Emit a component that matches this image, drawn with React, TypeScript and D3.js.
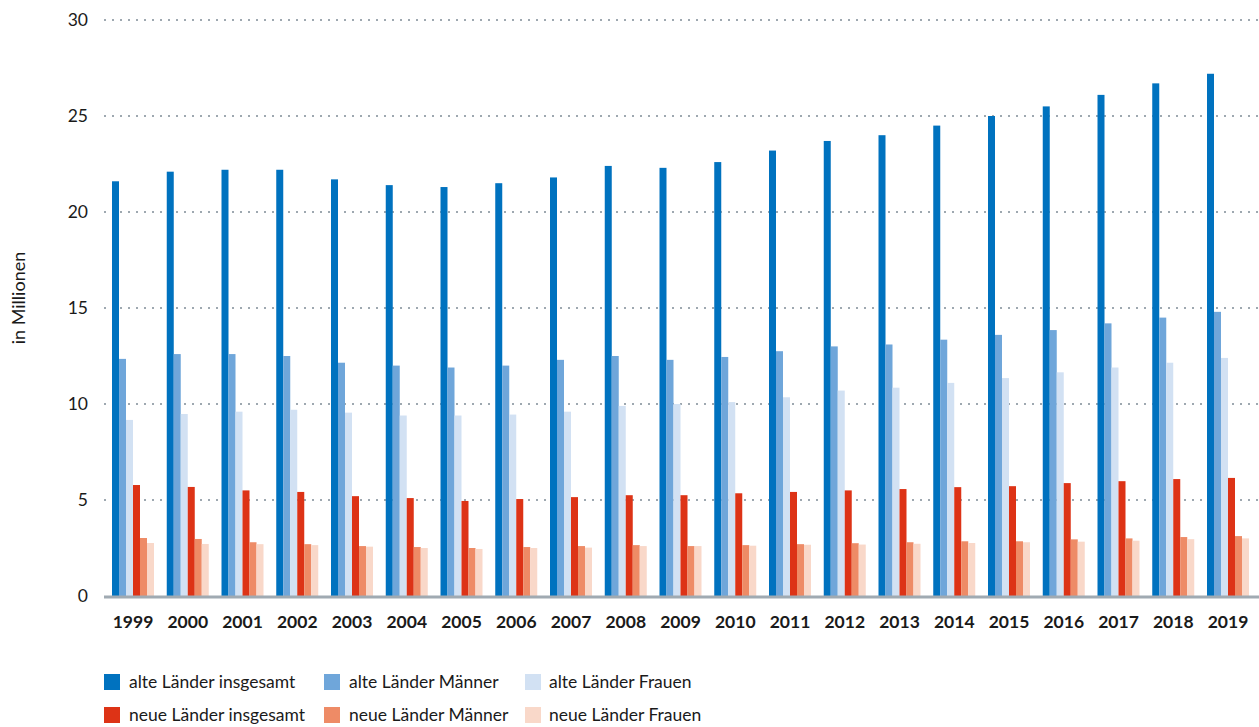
import React from "react";
import * as d3 from "d3";

const years = ["1999","2000","2001","2002","2003","2004","2005","2006","2007","2008","2009","2010","2011","2012","2013","2014","2015","2016","2017","2018","2019"];
const alteInsgesamt = [21.6,22.1,22.2,22.2,21.7,21.4,21.3,21.5,21.8,22.4,22.3,22.6,23.2,23.7,24.0,24.5,25.0,25.5,26.1,26.7,27.2];
const alteMaenner = [12.35,12.6,12.6,12.5,12.15,12.0,11.9,12.0,12.3,12.5,12.3,12.45,12.75,13.0,13.1,13.35,13.6,13.85,14.2,14.5,14.8];
const alteFrauen = [9.17,9.48,9.6,9.7,9.55,9.4,9.4,9.45,9.6,9.9,10.0,10.1,10.35,10.7,10.85,11.1,11.35,11.65,11.9,12.15,12.4];
const neueInsgesamt = [5.78,5.68,5.5,5.42,5.2,5.1,4.95,5.05,5.15,5.25,5.25,5.35,5.42,5.5,5.57,5.67,5.72,5.88,5.98,6.09,6.15];
const neueMaenner = [3.02,2.97,2.8,2.7,2.6,2.55,2.5,2.55,2.6,2.65,2.6,2.65,2.7,2.75,2.8,2.85,2.85,2.95,3.0,3.07,3.12];
const neueFrauen = [2.76,2.71,2.7,2.65,2.57,2.5,2.45,2.5,2.52,2.6,2.6,2.62,2.67,2.68,2.72,2.76,2.8,2.83,2.88,2.96,3.0];
const yTicks = [0,5,10,15,20,25,30];

const seriesNames = ["alte Länder insgesamt","alte Länder Männer","alte Länder Frauen","neue Länder insgesamt","neue Länder Männer","neue Länder Frauen"];
const seriesValues = [alteInsgesamt, alteMaenner, alteFrauen, neueInsgesamt, neueMaenner, neueFrauen];
const colors = ["#0072bf","#6fa6da","#d2e1f3","#dd3316","#ee8b66","#f9d8c9"];

const W = 1259, H = 727;
const FONT = "Lato, 'Open Sans', sans-serif";

export default function App() {
  const x = d3.scaleBand<string>().domain(years).range([112, 1249]).paddingInner(1 - 42 / 54.75).paddingOuter(0);
  const xi = d3.scaleBand<number>().domain(d3.range(seriesNames.length)).range([0, x.bandwidth()]).padding(0);
  const y = d3.scaleLinear().domain([0, 30]).range([596, 20]);
  const legendCols = [104, 324, 525];
  const legendTextX = [129, 349, 549];
  const legendRows = [682, 715];

  return (
    <div style={{ position: "absolute", left: 0, top: 0 }}>
      <svg width={W} height={H} style={{ display: "block", fontFamily: FONT }}>
        <rect width={W} height={H} fill="#ffffff" />
        {yTicks.filter(t => t > 0).map(t => (
          <line key={"g" + t} x1={104} x2={W} y1={y(t)} y2={y(t)} stroke="#9ea8b0" strokeWidth={2} strokeDasharray="2 6" />
        ))}
        {yTicks.map(t => (
          <text key={"t" + t} x={88} y={y(t)} dy="0.35em" textAnchor="end" fontSize={17.5} fill="#1a1a1a">{t}</text>
        ))}
        <text transform={`translate(19,${298}) rotate(-90)`} textAnchor="middle" dy="0.35em" fontSize={18} fill="#1a1a1a">in Millionen</text>
        {years.map((yr, i) => (
          <g key={yr} transform={`translate(${x(yr)},0)`}>
            {seriesValues.map((vals, s) => (
              <rect key={s} x={xi(s)} width={xi.bandwidth()} y={y(vals[i])} height={y(0) - y(vals[i])} fill={colors[s]} />
            ))}
          </g>
        ))}
        <line x1={104} x2={W} y1={597} y2={597} stroke="#a0aab2" strokeWidth={3} />
        {years.map(yr => (
          <text key={"x" + yr} x={(x(yr) as number) + x.bandwidth() / 2} y={622} dy="0.35em" textAnchor="middle" fontSize={17.5} fontWeight="bold" fill="#1a1a1a">{yr}</text>
        ))}
        {seriesNames.map((name, s) => {
          const col = s % 3, row = Math.floor(s / 3);
          return (
            <g key={name}>
              <rect x={legendCols[col]} y={legendRows[row] - 8} width={16} height={16} fill={colors[s]} />
              <text x={legendTextX[col]} y={legendRows[row]} dy="0.35em" fontSize={17.5} fill="#1a1a1a">{name}</text>
            </g>
          );
        })}
      </svg>
    </div>
  );
}
